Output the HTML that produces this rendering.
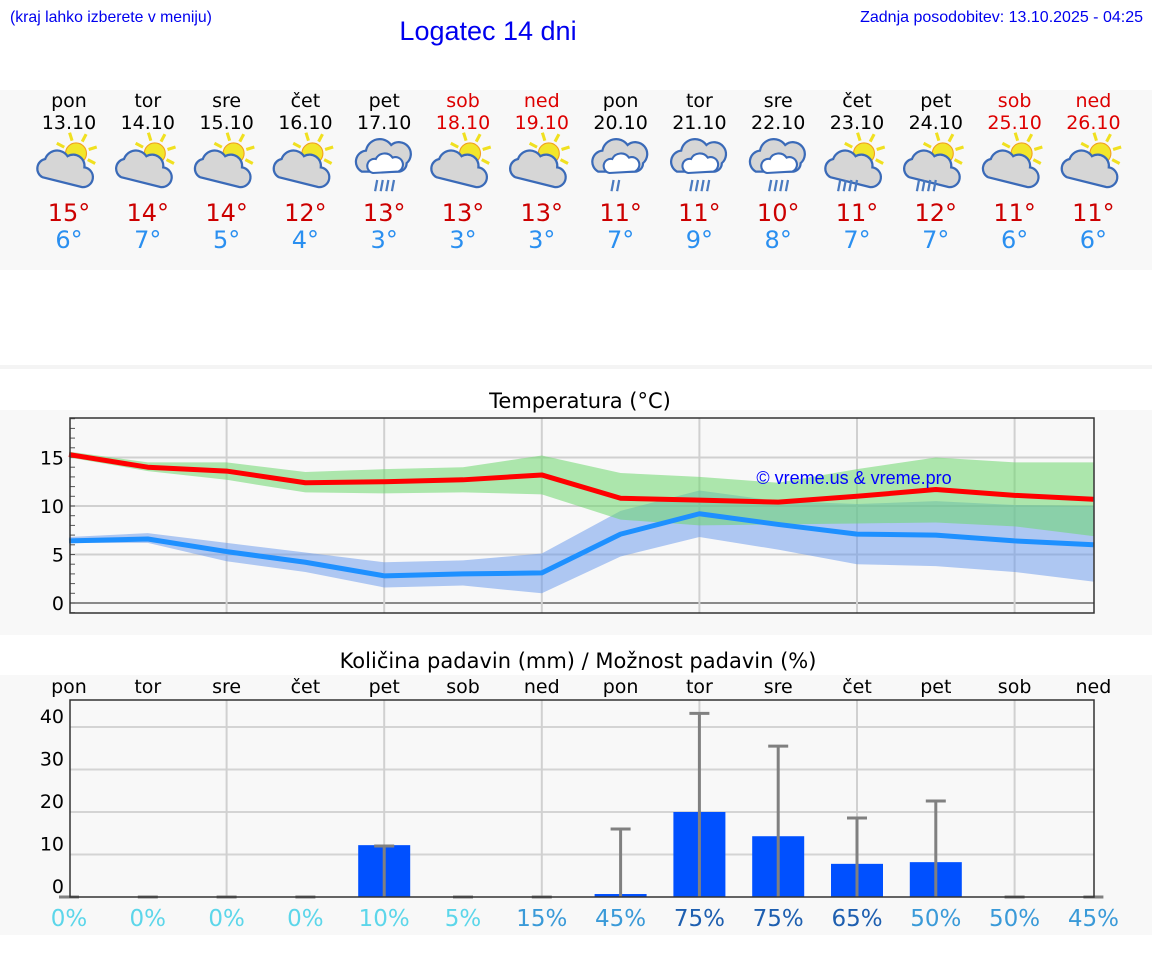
<!DOCTYPE html>
<html><head><meta charset="utf-8">
<style>
html,body{margin:0;padding:0;background:#fff;}
svg{display:block;font-family:"DejaVu Sans","Liberation Sans",sans-serif;}
</style></head>
<body>
<svg id="c" width="1152" height="975" viewBox="0 0 1152 975" xmlns="http://www.w3.org/2000/svg">
<rect x="0" y="90" width="1152" height="180" fill="#f8f8f8"/>
<rect x="0" y="365" width="1152" height="4" fill="#f4f4f4"/>
<rect x="0" y="410" width="1152" height="225" fill="#f8f8f8"/>
<rect x="0" y="675" width="1152" height="260" fill="#f8f8f8"/>
<text x="10" y="22" font-family="Liberation Sans, sans-serif" font-size="15.8" fill="#0000ee">(kraj lahko izberete v meniju)</text>
<text x="488" y="40" text-anchor="middle" font-family="Liberation Sans, sans-serif" font-size="27" fill="#0000ee">Logatec 14 dni</text>
<text x="1143" y="22" text-anchor="end" font-family="Liberation Sans, sans-serif" font-size="16" fill="#0000ee">Zadnja posodobitev: 13.10.2025 - 04:25</text>
<text x="580" y="408" text-anchor="middle" font-size="21" fill="#000">Temperatura (°C)</text>
<text x="578" y="668" text-anchor="middle" font-size="21" fill="#000">Količina padavin (mm) / Možnost padavin (%)</text>
<g id="hdr"></g>
<g id="temp"></g>
<g id="prec"></g>
</svg>
<script>
const days=["pon","tor","sre","čet","pet","sob","ned","pon","tor","sre","čet","pet","sob","ned"];
const dates=["13.10","14.10","15.10","16.10","17.10","18.10","19.10","20.10","21.10","22.10","23.10","24.10","25.10","26.10"];
const weekend=[0,0,0,0,0,1,1,0,0,0,0,0,1,1];
const icons=["sc","sc","sc","sc","r","sc","sc","r","r","r","scr","scr","sc","sc"];
const maxT=[15,14,14,12,13,13,13,11,11,10,11,12,11,11];
const minT=[6,7,5,4,3,3,3,7,9,8,7,7,6,6];
const maxLine=[15.3,14.0,13.6,12.4,12.5,12.7,13.2,10.8,10.6,10.4,11.0,11.7,11.1,10.7];
const maxHi=[15.6,14.5,14.5,13.5,13.8,14.0,15.2,13.4,13.0,12.4,13.8,15.0,14.5,14.5];
const maxLo=[15.0,13.6,12.7,11.4,11.3,11.4,11.2,8.6,8.0,8.1,8.2,8.3,7.9,6.9];
const minLine=[6.4,6.6,5.3,4.2,2.8,3.0,3.1,7.1,9.2,8.1,7.1,7.0,6.4,6.0];
const minHi=[6.8,7.2,6.2,5.2,4.2,4.4,5.1,9.5,11.6,10.5,10.2,10.5,10.1,10.0];
const minLo=[6.2,6.2,4.3,3.2,1.6,1.8,1.0,4.8,6.8,5.5,4.0,3.8,3.2,2.2];
const tempTicks=[0,5,10,15];
const precip=[0,0,0,0,12.2,0,0,0.7,20,14.3,7.8,8.2,0,0];
const precipMax=[0,0,0,0,12,0,0,16,43.2,35.5,18.6,22.6,0,0];
const chance=[0,0,0,0,10,5,15,45,75,75,65,50,50,45];
const precipTicks=[10,20,30,40];

const NS="http://www.w3.org/2000/svg";
function el(tag,attrs,parent,txt){const e=document.createElementNS(NS,tag);for(const k in attrs)e.setAttribute(k,attrs[k]);if(txt!==undefined)e.textContent=txt;parent.appendChild(e);return e;}
const X=i=>69+i*78.8;
const TY=v=>603-9.7*v;
const PY=v=>897-4.25*v;

const hdr=document.getElementById('hdr');
function sun(g,cx,cy,r){
  for(let a=0;a<8;a++){const ang=a*Math.PI/4-0.3;
    el('line',{x1:cx+Math.cos(ang)*(r+2),y1:cy+Math.sin(ang)*(r+2),x2:cx+Math.cos(ang)*(r+8),y2:cy+Math.sin(ang)*(r+8),stroke:'#f0e020','stroke-width':2.2},g);}
  el('circle',{cx:cx,cy:cy,r:r,fill:'#f2e62a',stroke:'#f0a020','stroke-width':0.8},g);
}
function cloud(g,cx,cy){
  el('path',{d:`M${cx-14},${cy+8} a7 7 0 0 1 2,-13 a9 9 0 0 1 16,-2 a8 8 0 0 1 12,8 a7 7 0 0 1 -2,14 z`,fill:'#d6d6d6',stroke:'#3a6ab8','stroke-width':1.6},g);
}
function rain(g,cx,cy,n){
  for(let k=0;k<n;k++){el('line',{x1:cx-6+k*4,y1:cy,x2:cx-7.5+k*4,y2:cy+8,stroke:'#4a7ac0','stroke-width':1.6},g);}
}
for(let i=0;i<14;i++){
  const x=X(i);
  const g=el('g',{},hdr);
  
  
  const col=weekend[i]?'#dd0000':'#000';
  el('text',{x:x,y:107,'text-anchor':'middle','font-size':19,fill:col},g,days[i]);
  el('text',{x:x,y:129,'text-anchor':'middle','font-size':19,fill:col},g,dates[i]);
  const ic=el('g',{transform:`translate(${x},166) scale(1.4) translate(${-x},-166)`},g);
  
  
  if(icons[i]==='sc'||icons[i]==='scr'){sun(ic,x+5,157,7.5);cloud(ic,x-5,166);if(icons[i]==='scr')rain(ic,x-6,176,4);}
  else{el('path',{d:`M${x-16},${170} a8 8 0 0 1 3,-15 a10 10 0 0 1 18,-4 a8 8 0 0 1 11,13 a6 6 0 0 1 -5,6 z`,fill:'#d6d6d6',stroke:'#3a6ab8','stroke-width':1.6},ic);
    el('path',{d:`M${x-8},${171} a5 5 0 0 1 2,-10 a7 7 0 0 1 12,-1 a5 5 0 0 1 4,10 z`,fill:'#fff',stroke:'#3a6ab8','stroke-width':1.5},ic);
    rain(ic,x+1,176,i===7?2:4);}
  el('text',{x:x,y:221,'text-anchor':'middle','font-size':24,fill:'#cc0000'},g,maxT[i]+'°');
  el('text',{x:x,y:248,'text-anchor':'middle','font-size':24,fill:'#2a8ff0'},g,minT[i]+'°');
}

const T=document.getElementById('temp');
el('rect',{x:70,y:418,width:1024,height:195,fill:'#f8f8f8'},T);
for(const v of tempTicks){el('line',{x1:70,x2:1094,y1:TY(v),y2:TY(v),stroke:v===0?'#666':'#d0d0d0','stroke-width':v===0?1.5:2},T);
  const t=el('text',{x:64,y:TY(v)+7,'text-anchor':'end','font-size':19,fill:'#000'},T,String(v));
  }
for(let i=2;i<14;i+=2)el('line',{x1:X(i),x2:X(i),y1:418,y2:613,stroke:'#d0d0d0','stroke-width':2},T);
for(let v=-1;v<=19;v++)el('line',{x1:70,x2:75,y1:TY(v),y2:TY(v),stroke:'#555','stroke-width':1},T);
function band(hi,lo,fill,name){
  let d='M'+hi.map((v,i)=>X(i)+','+TY(v)).join(' L');
  for(let i=lo.length-1;i>=0;i--)d+=' L'+X(i)+','+TY(lo[i]);
  const p=el('path',{d:d+'Z',fill:fill},T);
  
}
band(minHi,minLo,'rgba(100,150,235,0.5)','min-temp-range');
band(maxHi,maxLo,'rgba(110,215,110,0.55)','max-temp-range');
function line(vals,col,name){
  const p=el('polyline',{points:vals.map((v,i)=>X(i)+','+TY(v)).join(' '),fill:'none',stroke:col,'stroke-width':5,'stroke-linejoin':'round'},T);
  
}
line(maxLine,'#ff0000','max-temp-line');
line(minLine,'#1e90ff','min-temp-line');
el('rect',{x:70,y:418,width:1024,height:195,fill:'none',stroke:'#333','stroke-width':1.5},T);
const cp=el('text',{x:854,y:484,'text-anchor':'middle','font-family':'Liberation Sans, sans-serif','font-size':18,fill:'#0000ff'},T,'© vreme.us & vreme.pro');


const P=document.getElementById('prec');
el('rect',{x:70,y:700,width:1024,height:197,fill:'#f8f8f8'},P);
for(const v of precipTicks){el('line',{x1:70,x2:1094,y1:PY(v),y2:PY(v),stroke:'#d4d4d4','stroke-width':2},P);
  const t=el('text',{x:64,y:PY(v)-4,'text-anchor':'end','font-size':19,fill:'#000'},P,String(v));
  }
el('text',{x:64,y:893,'text-anchor':'end','font-size':19,fill:'#000'},P,'0');
for(let i=2;i<14;i+=2)el('line',{x1:X(i),x2:X(i),y1:700,y2:897,stroke:'#d0d0d0','stroke-width':2},P);
for(let i=0;i<14;i++){
  const x=X(i);
  const dl=el('text',{x:x,y:693,'text-anchor':'middle','font-size':19,fill:'#000'},P,days[i]);
  
  if(precip[i]>0){const b=el('rect',{x:x-26,y:PY(precip[i]),width:52,height:PY(0)-PY(precip[i]),fill:'#0050ff'},P);
    }
  const e=el('g',{},P);
  
  el('line',{x1:x,x2:x,y1:PY(0),y2:PY(precipMax[i]),stroke:'#808080','stroke-width':3},e);
  el('line',{x1:x-10,x2:x+10,y1:PY(precipMax[i]),y2:PY(precipMax[i]),stroke:'#808080','stroke-width':3},e);
  const c=chance[i];
  const col=c>=60?'#1e5fb0':(c>=15?'#3a9ad8':'#5cd6ea');
  const pt=el('text',{x:x,y:926,'text-anchor':'middle','font-size':23,fill:col},P,c+'%');
  
}
el('rect',{x:70,y:700,width:1024,height:197,fill:'none',stroke:'#333','stroke-width':1.5},P);
</script>
</body></html>
